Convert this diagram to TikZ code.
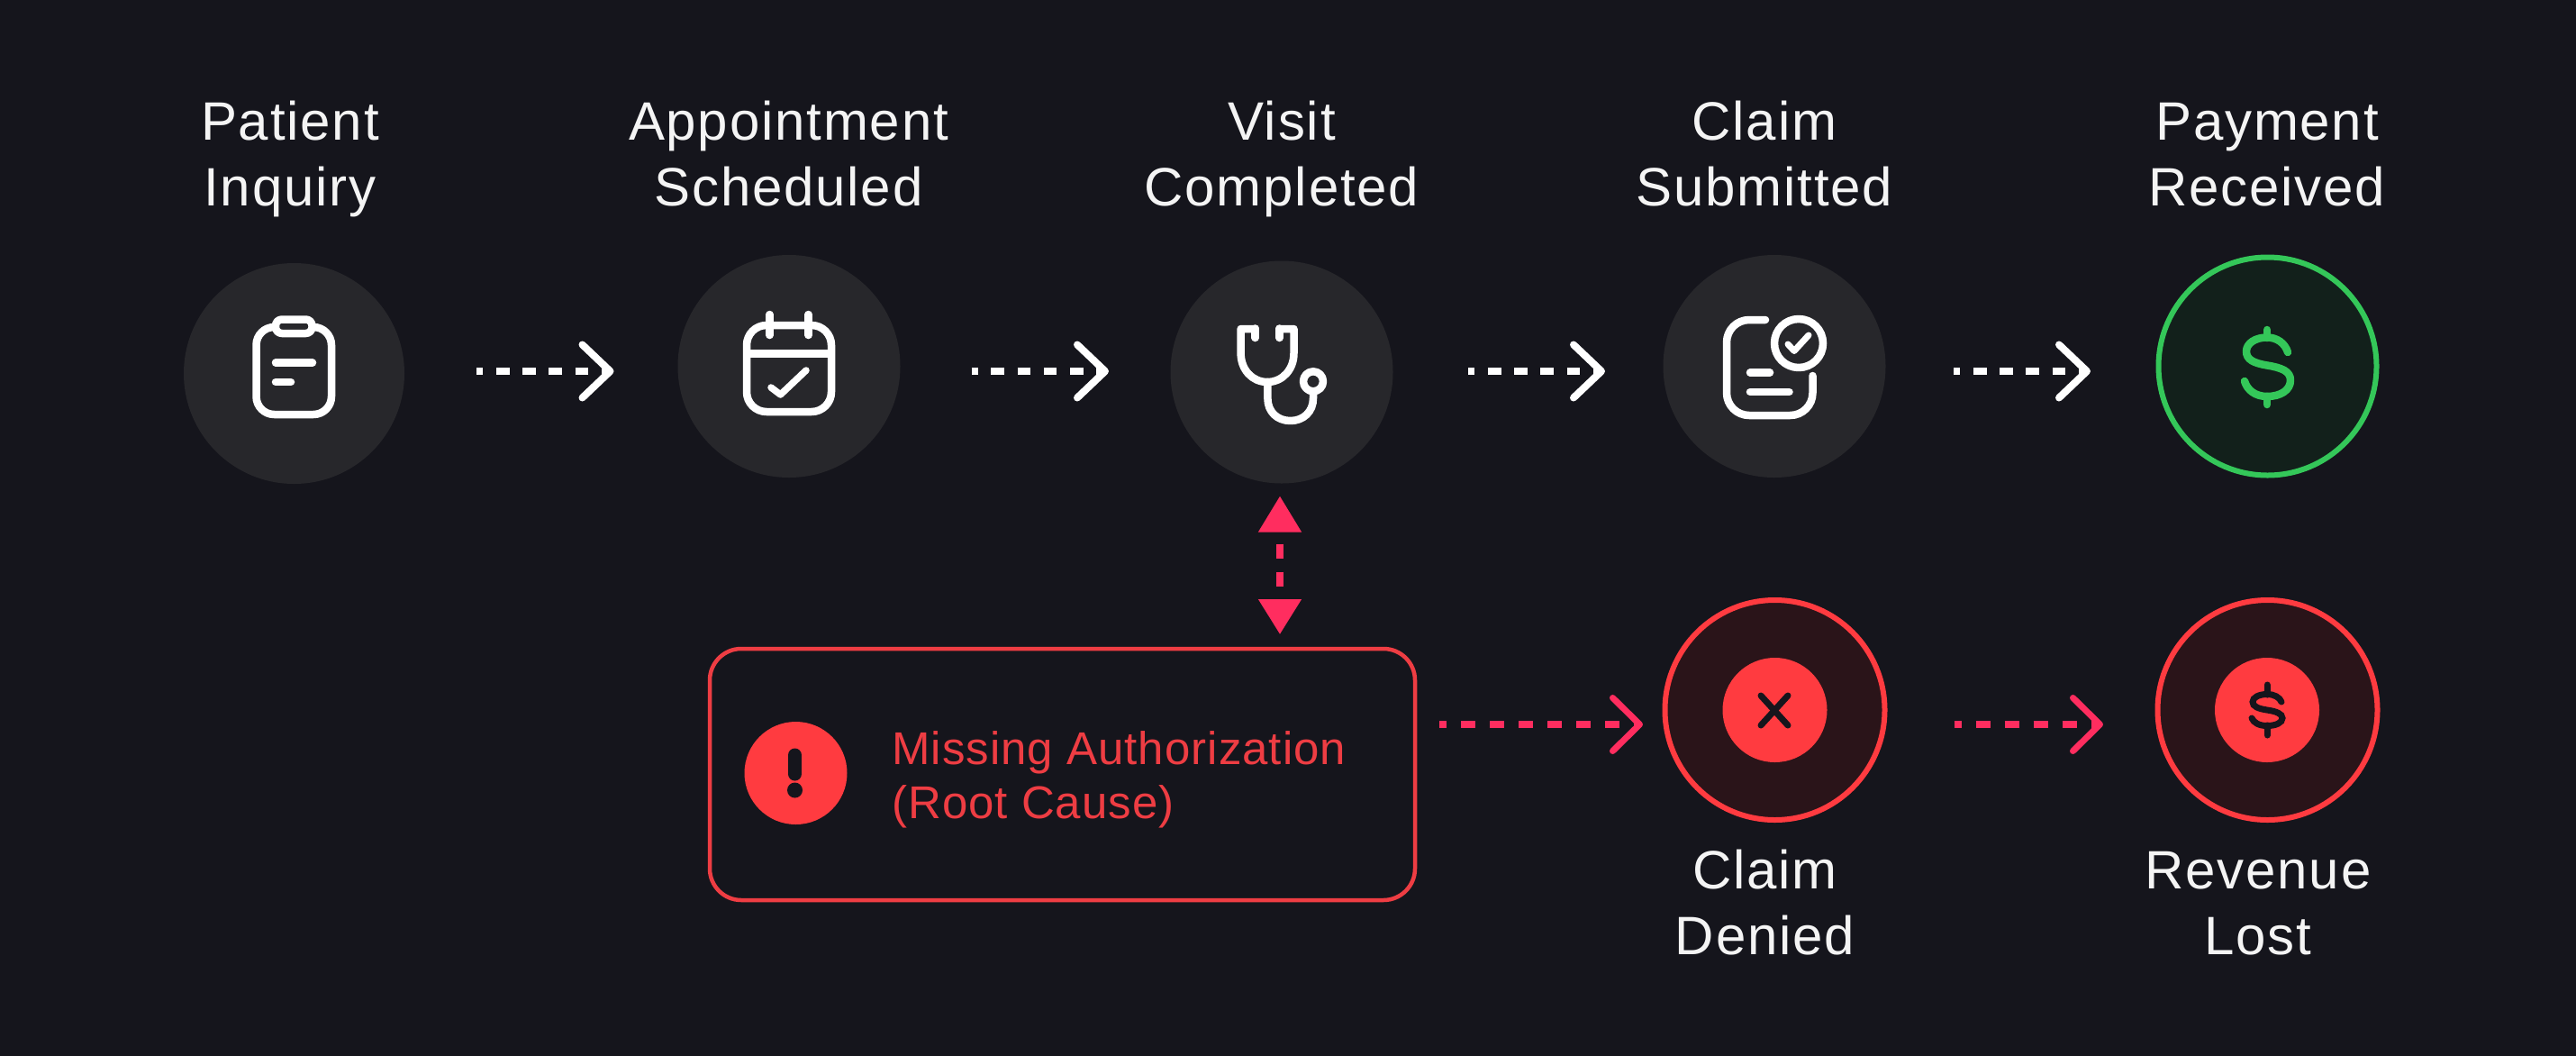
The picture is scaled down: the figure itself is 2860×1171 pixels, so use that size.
\documentclass[tikz,border=0pt]{standalone}
\usepackage{fontspec}
\usetikzlibrary{arrows.meta,calc}
\newfontfamily\lblfont[LetterSpace=3]{Liberation Sans}
\newfontfamily\boxfont[LetterSpace=2]{Liberation Sans}
\definecolor{bgc}{HTML}{15151C}
\definecolor{grayc}{HTML}{27272B}
\definecolor{redc}{HTML}{FF3B40}
\definecolor{reddark}{HTML}{2A1419}
\definecolor{boxred}{HTML}{EE3D43}
\definecolor{pinkc}{HTML}{FF2D5F}
\definecolor{greenc}{HTML}{34C759}
\definecolor{greendark}{HTML}{12201B}
\definecolor{lblc}{HTML}{F4F4F4}
\tikzset{
  stage/.style={circle,fill=grayc,inner sep=0pt,outer sep=0pt,minimum size=247pt},
  good/.style={circle,fill=greendark,draw=greenc,line width=6pt,inner sep=0pt,outer sep=0pt,minimum size=242pt},
  bad/.style={circle,fill=reddark,draw=redc,line width=6pt,inner sep=0pt,outer sep=0pt,minimum size=244pt},
  badin/.style={circle,fill=redc,inner sep=0pt,outer sep=0pt,minimum size=116pt},
  lbl/.style={font=\lblfont\fontsize{60}{73}\selectfont,text=lblc,align=center,anchor=base,inner sep=0pt},
  icon/.style={draw=white,line width=8.5pt,line cap=round,line join=round},
  flow/.style={draw=white,line width=8pt,dash pattern=on 14.6pt off 14.6pt,dash phase=7.3pt,
    -{Straight Barb[length=31pt,width=59pt,line width=8pt,round]}},
  badflow/.style={draw=pinkc,line width=8pt,dash pattern=on 16pt off 16pt,dash phase=8pt,
    -{Straight Barb[length=30pt,width=59pt,line width=7pt,round]}},
  link/.style={draw=pinkc,line width=8pt,dash pattern=on 16pt off 15pt,dash phase=16pt,
    {Triangle[length=40pt,width=46pt]}-{Triangle[length=39pt,width=46pt]}},
}
\begin{document}
\begin{tikzpicture}[x=1pt,y=-1pt]
\useasboundingbox (0,0) rectangle (2860,1171);
\fill[bgc] (-10,-10) rectangle (2870,1181);
% stages
\node[stage,minimum size=245pt] (c1) at (326.5,414.5) {};
\node[stage] (c2) at (876,406.5) {};
\node[stage] (c3) at (1423,413) {};
\node[stage] (c4) at (1970,406.5) {};
\node[good] (c5) at (2517.5,406.5) {};
\node[bad] (d1) at (1970.5,788) {};
\node[bad] (d2) at (2517.5,788) {};
\node[badin] (d1in) at (1970.5,788) {};
\node[badin] (d2in) at (2517,788) {};
\node[draw=boxred,line width=4.5pt,rounded corners=35pt,inner sep=0pt,outer sep=0pt,minimum width=783pt,minimum height=279pt] (box) at (1179.5,859.5) {};
\node[circle,fill=redc,inner sep=0pt,outer sep=0pt,minimum size=114pt] (warn) at (883.5,858) {};
% labels (anchor is the base of the last line)
\node[lbl] (l1) at (322,228) {Patient\\Inquiry};
\node[lbl] (l2) at (875.5,228) {Appointment\\Scheduled};
\node[lbl] (l3) at (1423,228) {Visit\\Completed};
\node[lbl] (l4) at (1959,228) {Claim\\Submitted};
\node[lbl] (l5) at (2517,228) {Payment\\Received};
\node[lbl] (l6) at (1959.5,1059) {Claim\\Denied};
\node[lbl] (l7) at (2507,1059) {Revenue\\Lost};
\node[font=\boxfont\fontsize{51}{60}\selectfont,text=boxred,align=left,anchor=base west,inner sep=0pt] (boxtxt) at (990,908) {Missing Authorization\\(Root Cause)};
% connectors
\coordinate (rowa) at (0,412);
\coordinate (rowb) at (0,804);
\draw[flow,shorten <=80pt,shorten >=71pt] (c1.east |- rowa) -- (c2.west |- rowa);
\draw[flow,shorten <=79pt,shorten >=68.5pt] (c2.east |- rowa) -- (c3.west |- rowa);
\draw[flow,shorten <=83.5pt,shorten >=64.5pt] (c3.east |- rowa) -- (c4.west |- rowa);
\draw[flow,shorten <=75.5pt,shorten >=75.5pt] (c4.east |- rowa) -- (c5.west |- rowa);
\draw[link,shorten <=14pt,shorten >=16pt] ([xshift=-2pt]c3.south) -- ([xshift=-2pt]c3.south |- box.north);
\draw[badflow,shorten <=27pt,shorten >=24.5pt] (box.east |- rowb) -- (d1.west |- rowb);
\draw[badflow,shorten <=77pt,shorten >=60.5pt] (d1.east |- rowb) -- (d2.west |- rowb);
% clipboard icon
\draw[icon,rounded corners=20pt] (310,363) -- (284.5,363) -- (284.5,460) -- (368,460) -- (368,363) -- (342,363);
\draw[icon,fill=grayc,rounded corners=7pt] (306,354.5) rectangle (346.5,370);
\draw[icon] (306,402.5) -- (347,402.5);
\draw[icon] (306,424) -- (323,424);
% calendar icon
\draw[icon,rounded corners=22pt] (829,361) rectangle (923,457);
\draw[icon,line cap=butt] (829,392.3) -- (923,392.3);
\draw[icon] (854.5,349) -- (854.5,372);
\draw[icon] (897.6,349) -- (897.6,372);
\draw[icon,line width=7.5pt] (856,430) -- (866.5,438) -- (895,411);
% stethoscope icon
\draw[icon] (1393.7,364.5) -- (1393.7,375);
\draw[icon] (1420.6,364.5) -- (1420.6,375);
\draw[icon] (1393.7,365) -- (1377.6,365) -- (1377.6,392) .. controls (1377.6,410) and (1390,424) .. (1407,424) .. controls (1424,424) and (1436.5,410) .. (1436.5,392) -- (1436.5,365) -- (1420.6,365);
\draw[icon] (1407.4,424) -- (1407.4,442) .. controls (1407.4,457) and (1418,467) .. (1432.7,467) .. controls (1447,467) and (1458,457) .. (1458,442) -- (1458,435);
\draw[icon] (1458,423.3) circle (11pt);
% claim document icon
\draw[icon,rounded corners=25pt] (1960,355) -- (1917,355) -- (1917,461) -- (2012.5,461) -- (2012.5,417);
\draw[icon] (1997,381) circle (27pt);
\draw[icon,line width=7pt] (1985,382) -- (1992,389.5) -- (2008,372);
\draw[icon] (1943,413.5) -- (1965,413.5);
\draw[icon] (1943,435) -- (1986.5,435);
% green dollar
\draw[icon,draw=greenc] (2517,366) -- (2517,375);
\draw[icon,draw=greenc] (2517,440) -- (2517,449);
\draw[icon,draw=greenc] (2540,391) .. controls (2537,381) and (2528,374.5) .. (2517,374.5) .. controls (2504,374.5) and (2494,381) .. (2494,390) .. controls (2494,399) and (2502,403) .. (2517,405.5) .. controls (2533,408) and (2543,412) .. (2543,422) .. controls (2543,433) and (2532,440) .. (2517,440) .. controls (2504,440) and (2495,433) .. (2492,423);
% warning mark
\draw[draw=bgc,line width=15pt,line cap=round] (882.5,838) -- (882.5,859);
\fill[bgc] (882.5,877) circle (8.5pt);
% cross
\draw[draw=bgc,line width=7pt,line cap=round] (1955,772) -- (1985,805);
\draw[draw=bgc,line width=7pt,line cap=round] (1985,772) -- (1955,805);
% dark dollar
\draw[draw=bgc,line width=7pt,line cap=round] (2517,760) -- (2517,771);
\draw[draw=bgc,line width=7pt,line cap=round] (2517,805) -- (2517,816);
\draw[draw=bgc,line width=7pt,line cap=round] (2533,779) .. controls (2531,774) and (2525,770.5) .. (2517,770.5) .. controls (2508,770.5) and (2501,774) .. (2501,779) .. controls (2501,784) and (2507,786.5) .. (2517,788) .. controls (2527,789.5) and (2534,792) .. (2534,797) .. controls (2534,802) and (2527,805.5) .. (2517,805.5) .. controls (2508,805.5) and (2502,802) .. (2500,797);
\end{tikzpicture}
\end{document}
